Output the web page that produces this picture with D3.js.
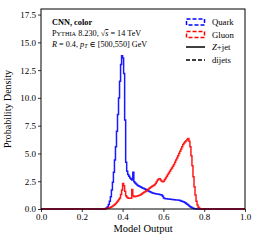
<!DOCTYPE html>
<html>
<head>
<meta charset="utf-8">
<script src="https://cdn.jsdelivr.net/npm/d3@7"></script>
<style>
  body { margin: 0; background: #fff; }
  svg text { font-family: "Liberation Serif", "DejaVu Serif", serif; fill: #000; }
</style>
</head>
<body>
<div id="root"></div>
<script>
// histogram bins: 0.005 wide, from 0.30 to 0.80 (zero elsewhere)
const binStart = 0.30
const binWidth = 0.005

const quark = [
  0, 0, 0.02, 0.05, 0.1, 0.2, 0.4, 0.7, 1.1, 1.7,
  2.4, 3.3, 4.4, 5.6, 7.0, 8.5, 10.0, 11.5, 13.0, 13.8,
  13.6, 12.2, 8.0, 4.2, 3.4, 3.1, 2.95, 2.8, 2.7, 2.6,
  3.3, 2.45, 2.35, 2.25, 2.15, 2.1, 2.05, 2.0, 1.95, 1.9,
  1.87, 1.82, 1.78, 1.72, 1.67, 1.62, 1.57, 1.52, 1.48, 1.45,
  1.42, 1.4, 1.38, 1.36, 1.34, 1.32, 1.3, 1.28, 1.25, 1.15,
  1.0, 0.95, 0.93, 0.92, 0.9, 0.89, 0.88, 0.87, 0.86, 0.85,
  0.84, 0.83, 0.82, 0.81, 0.8, 0.78, 0.76, 0.73, 0.7, 0.66,
  0.62, 0.57, 0.5, 0.43, 0.36, 0.28, 0.21, 0.15, 0.1, 0.06,
  0.03, 0.015, 0.005, 0, 0, 0, 0, 0, 0, 0
]

const gluon = [
  0, 0, 0.01, 0.02, 0.04, 0.06, 0.09, 0.12, 0.16, 0.2,
  0.26, 0.33, 0.4, 0.5, 0.6, 0.72, 0.85, 1.0, 1.3, 1.7,
  2.3, 2.1, 1.6, 1.2, 1.05, 1.0, 0.97, 0.96, 0.97, 1.75,
  1.2, 1.1, 1.12, 1.14, 1.17, 1.2, 1.23, 1.27, 1.33, 1.4,
  1.47, 1.53, 1.58, 1.65, 1.72, 1.8, 1.87, 1.93, 2.0, 2.07,
  2.12, 2.18, 2.3, 2.45, 2.6, 2.7, 2.72, 2.6, 2.5, 2.45,
  2.5, 2.65, 2.8, 2.95, 3.1, 3.25, 3.4, 3.55, 3.7, 3.85,
  4.0, 4.2, 4.4, 4.6, 4.8, 5.0, 5.2, 5.4, 5.6, 5.8,
  5.95, 6.05, 6.15, 6.25, 6.35, 6.1, 5.6, 4.8, 3.9, 2.9,
  2.0, 1.25, 0.7, 0.36, 0.15, 0.06, 0.02, 0.005, 0, 0
]

const xTicks = [0, 0.2, 0.4, 0.6, 0.8, 1.0]
const yTicks = [0, 2.5, 5, 7.5, 10, 12.5, 15, 17.5]
const legendLabels = ["Quark", "Gluon", "Z+jet", "dijets"]

const margin = { top: 9, right: 13, bottom: 33, left: 41 }
const W = 258, H = 242
const width = W - margin.left - margin.right
const height = H - margin.top - margin.bottom

const svg = d3.select("#root").append("svg")
  .attr("width", W)
  .attr("height", H)

const g = svg.append("g")
  .attr("transform", "translate(" + margin.left + "," + margin.top + ")")

const x = d3.scaleLinear().domain([0, 1]).range([0, width])
const y = d3.scaleLinear().domain([0, 18]).range([height, 0])

const toPoints = (vals) => {
  let pts = [[0, 0]]
  vals.forEach((v, i) => pts.push([binStart + i * binWidth, v]))
  pts.push([binStart + vals.length * binWidth, 0])
  pts.push([1, 0])
  return pts
}

const stepLine = d3.line()
  .x(d => x(d[0]))
  .y(d => y(d[1]))
  .curve(d3.curveStepAfter)

g.append("path")
  .datum(toPoints(quark))
  .attr("d", stepLine)
  .attr("fill", "none")
  .attr("stroke", "#0000ff")
  .attr("stroke-width", 1.5)
  .attr("stroke-opacity", 0.9)

g.append("path")
  .datum(toPoints(gluon))
  .attr("d", stepLine)
  .attr("fill", "none")
  .attr("stroke", "#ff0000")
  .attr("stroke-width", 1.5)
  .attr("stroke-opacity", 0.9)

// axes
const xAxis = g.append("g")
  .attr("transform", "translate(0," + height + ")")
  .call(d3.axisBottom(x).tickValues(xTicks).tickFormat(d3.format(".1f")).tickSize(3).tickSizeOuter(0).tickPadding(2))
const yAxis = g.append("g")
  .call(d3.axisLeft(y).tickValues(yTicks).tickFormat(d3.format(".1f")).tickSize(3).tickSizeOuter(0).tickPadding(2))

;[xAxis, yAxis].forEach(a => {
  a.select(".domain").remove()
  a.selectAll("text").style("font-size", "9px").style("font-family", "Liberation Serif, serif")
  a.selectAll("line").attr("stroke", "#000").attr("stroke-width", 0.8)
})

// frame
g.append("rect")
  .attr("x", 0).attr("y", 0)
  .attr("width", width).attr("height", height)
  .attr("fill", "none")
  .attr("stroke", "#000")
  .attr("stroke-width", 1)

// labels
svg.append("text")
  .attr("x", margin.left + width / 2)
  .attr("y", 232)
  .attr("text-anchor", "middle")
  .style("font-size", "10.5px")
  .text("Model Output")

svg.append("text")
  .attr("transform", "translate(11," + (margin.top + height / 2) + ") rotate(-90)")
  .attr("text-anchor", "middle")
  .style("font-size", "10px")
  .text("Probability Density")

// annotation
const ann = g.append("g").attr("transform", "translate(11,0)")
ann.append("text")
  .attr("y", 16)
  .style("font-size", "8.3px")
  .style("font-weight", "bold")
  .text("CNN, color")

const l2 = ann.append("text").attr("y", 27).style("font-size", "8.2px")
l2.append("tspan").text("P")
l2.append("tspan").style("font-size", "6.3px").text("YTHIA")
l2.append("tspan").text(" 8.230, √")
l2.append("tspan").style("font-style", "italic").style("text-decoration", "overline").text("s")
l2.append("tspan").text(" = 14 TeV")

const l3 = ann.append("text").attr("y", 37.5).style("font-size", "8.2px")
l3.append("tspan").style("font-style", "italic").text("R")
l3.append("tspan").text(" = 0.4, ")
l3.append("tspan").style("font-style", "italic").text("p")
l3.append("tspan").style("font-style", "italic").style("font-size", "6px").attr("dy", 1.5).text("T")
l3.append("tspan").attr("dy", -1.5).text(" ∈ [500,550] GeV")

// legend
const leg = g.append("g").attr("transform", "translate(145,0)")
const rowY = [13, 25.5, 38, 51]
legendLabels.forEach((lab, i) => {
  const row = leg.append("g").attr("transform", "translate(0," + rowY[i] + ")")
  if (i < 2) {
    row.append("rect")
      .attr("x", 0.5).attr("y", -3)
      .attr("width", 18).attr("height", 6)
      .attr("fill", "none")
      .attr("stroke", i === 0 ? "#0000ff" : "#ff0000")
      .attr("stroke-width", 1.5)
      .attr("stroke-dasharray", "4,2")
  } else {
    row.append("line")
      .attr("x1", 0).attr("x2", 19)
      .attr("stroke", "#000")
      .attr("stroke-width", 1.5)
      .attr("stroke-dasharray", i === 3 ? "4,2" : null)
  }
  const t = row.append("text")
    .attr("x", 26).attr("y", 3)
    .style("font-size", "8.7px")
  if (lab === "Z+jet") {
    t.append("tspan").style("font-style", "italic").text("Z")
    t.append("tspan").text("+jet")
  } else {
    t.text(lab)
  }
})
</script>
</body>
</html>
